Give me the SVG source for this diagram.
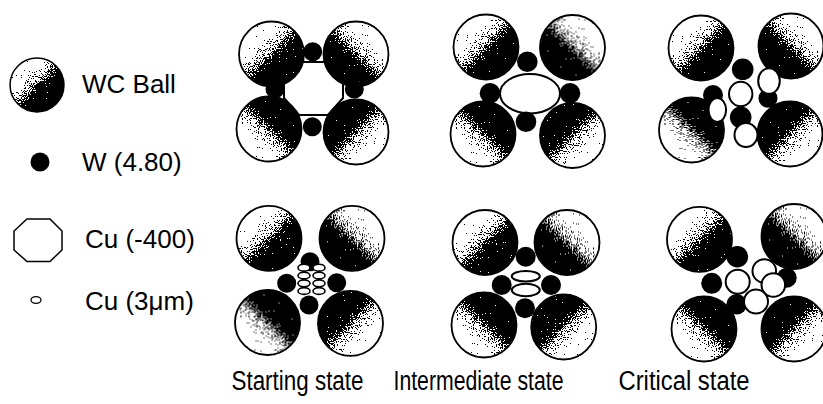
<svg xmlns="http://www.w3.org/2000/svg" width="823" height="404" viewBox="0 0 823 404">
  <style>
    .lbl { font-family: "Liberation Sans", Arial, sans-serif; font-size: 26px; fill: #000; }
    .cap { font-family: "Liberation Sans", Arial, sans-serif; font-size: 27px; fill: #000; }
    .w { fill: #000; }
    .cu { fill: #fff; stroke: #000; stroke-width: 2; }
    .cus { fill: #fff; stroke: #000; stroke-width: 1.6; }
  </style>
  <defs>
    <!-- shading: white on the far side, black toward the lower right -->
    <linearGradient id="shade" x1="0.08" y1="0.08" x2="0.92" y2="0.92">
      <stop offset="0" stop-color="#fff"/>
      <stop offset="0.26" stop-color="#fff"/>
      <stop offset="0.44" stop-color="#a0a0a0"/>
      <stop offset="0.56" stop-color="#303030"/>
      <stop offset="0.64" stop-color="#000"/>
      <stop offset="1" stop-color="#000"/>
    </linearGradient>
    <!-- stippled halftone look for the balls -->
    <filter id="grain" x="-5%" y="-5%" width="110%" height="110%" color-interpolation-filters="sRGB">
      <feTurbulence type="fractalNoise" baseFrequency="0.87" numOctaves="1" seed="7" result="noise"/>
      <feColorMatrix in="noise" type="matrix" values="1 0 0 0 0  1 0 0 0 0  1 0 0 0 0  0 0 0 0 1" result="gray"/>
      <feComposite in="SourceGraphic" in2="gray" operator="arithmetic" k1="0" k2="1" k3="2.2" k4="-1.1" result="mix"/>
      <feComponentTransfer in="mix" result="dots">
        <feFuncR type="discrete" tableValues="0 1"/>
        <feFuncG type="discrete" tableValues="0 1"/>
        <feFuncB type="discrete" tableValues="0 1"/>
      </feComponentTransfer>
      <feComposite in="dots" in2="SourceGraphic" operator="in"/>
    </filter>
    <g id="ball">
      <circle r="32.5" fill="url(#shade)" filter="url(#grain)"/>
      <circle r="32.5" fill="none" stroke="#000" stroke-width="1.8"/>
    </g>
  </defs>

  <rect width="823" height="404" fill="#fff"/>

  <!-- legend -->
  <g id="legend-wc">
    <use href="#ball" transform="translate(37 85) scale(0.83)"/>
    <text class="lbl" x="82" y="93">WC Ball</text>
  </g>
  <g id="legend-w">
    <circle class="w" cx="40" cy="162" r="9.5"/>
    <text class="lbl" x="82" y="171">W (4.80)</text>
  </g>
  <g id="legend-cu400">
    <polygon points="27,219 50,219 62,231 62,250 50,261.5 27,261.5 14,250 14,231" fill="#fff" stroke="#000" stroke-width="1.5"/>
    <text class="lbl" x="85" y="248">Cu (-400)</text>
  </g>
  <g id="legend-cu3">
    <ellipse cx="36" cy="300" rx="5" ry="3.3" fill="#fff" stroke="#000" stroke-width="1.3"/>
    <text class="lbl" x="85" y="310">Cu (3μm)</text>
  </g>

  <!-- coarse Cu powder: starting state -->
  <g id="coarse-start">
    <polygon points="299,62 328,62 343,79 343,98 328,115 299,115 284,98 284,79" fill="#fff" stroke="#000" stroke-width="2"/>
    <use href="#ball" transform="translate(271.5 54)"/>
    <use href="#ball" transform="translate(356 54) rotate(90)"/>
    <use href="#ball" transform="translate(269 129) rotate(-90)"/>
    <use href="#ball" transform="translate(356 132) rotate(180)"/>
    <circle class="w" cx="312.7" cy="51.7" r="9.5"/>
    <circle class="w" cx="275" cy="89" r="9.5"/>
    <circle class="w" cx="354.3" cy="89" r="9.5"/>
    <circle class="w" cx="312.3" cy="126.7" r="9.5"/>
  </g>

  <!-- coarse Cu powder: intermediate state -->
  <g id="coarse-intermediate">
    <ellipse class="cu" cx="530" cy="93.7" rx="30" ry="19.7"/>
    <use href="#ball" transform="translate(486 47)"/>
    <use href="#ball" transform="translate(572.5 47.5) rotate(90)"/>
    <use href="#ball" transform="translate(483 134) rotate(-90)"/>
    <use href="#ball" transform="translate(572.5 135.5) rotate(180)"/>
    <circle class="w" cx="527.3" cy="61.7" r="10.3"/>
    <circle class="w" cx="490" cy="93.3" r="10.3"/>
    <circle class="w" cx="570" cy="93.3" r="10.3"/>
    <circle class="w" cx="526" cy="121.7" r="10.3"/>
  </g>

  <!-- coarse Cu powder: critical state -->
  <g id="coarse-critical">
    <use href="#ball" transform="translate(701 48)"/>
    <use href="#ball" transform="translate(791 46) rotate(90)"/>
    <use href="#ball" transform="translate(691.5 130) rotate(-90)"/>
    <use href="#ball" transform="translate(790 134) rotate(180)"/>
    <circle class="w" cx="742.7" cy="69.3" r="10.8"/>
    <circle class="w" cx="713" cy="95" r="10"/>
    <circle class="w" cx="740.7" cy="117.3" r="10.8"/>
    <circle class="w" cx="768" cy="98.3" r="9.5"/>
    <ellipse class="cu" cx="740.7" cy="94" rx="11.7" ry="12.2"/>
    <ellipse class="cu" cx="717.3" cy="110" rx="8.8" ry="12"/>
    <ellipse class="cu" cx="746" cy="135" rx="11.5" ry="12"/>
    <ellipse class="cu" cx="769" cy="81" rx="10.8" ry="12.8"/>
  </g>

  <!-- fine Cu powder: starting state -->
  <g id="fine-start">
    <use href="#ball" transform="translate(269 238.3)"/>
    <use href="#ball" transform="translate(352 238.3) rotate(90)"/>
    <use href="#ball" transform="translate(267.5 322.5) rotate(-90)"/>
    <use href="#ball" transform="translate(350.5 323.3) rotate(180)"/>
    <circle class="w" cx="310" cy="261.7" r="9.5"/>
    <circle class="w" cx="286.7" cy="283.3" r="9.5"/>
    <circle class="w" cx="336.7" cy="282.7" r="9.5"/>
    <circle class="w" cx="309" cy="305" r="9.5"/>
    <ellipse class="cus" cx="304" cy="267.7" rx="6" ry="3.4"/>
    <ellipse class="cus" cx="319" cy="267.7" rx="6" ry="3.4"/>
    <ellipse class="cus" cx="304" cy="275.5" rx="6" ry="3.4"/>
    <ellipse class="cus" cx="319" cy="275.5" rx="6" ry="3.4"/>
    <ellipse class="cus" cx="304" cy="283.3" rx="6" ry="3.4"/>
    <ellipse class="cus" cx="319" cy="283.3" rx="6" ry="3.4"/>
    <ellipse class="cus" cx="304" cy="291" rx="6" ry="3.4"/>
    <ellipse class="cus" cx="319" cy="291" rx="6" ry="3.4"/>
  </g>

  <!-- fine Cu powder: intermediate state -->
  <g id="fine-intermediate">
    <use href="#ball" transform="translate(485 242.5)"/>
    <use href="#ball" transform="translate(567 242.5) rotate(90)"/>
    <use href="#ball" transform="translate(484 325) rotate(-90)"/>
    <use href="#ball" transform="translate(563.7 327) rotate(180)"/>
    <circle class="w" cx="525.7" cy="256.7" r="10"/>
    <circle class="w" cx="501.7" cy="285" r="10"/>
    <circle class="w" cx="551" cy="285" r="10"/>
    <circle class="w" cx="525" cy="308.3" r="10"/>
    <ellipse class="cu" cx="525.8" cy="276.3" rx="14" ry="5.3"/>
    <ellipse class="cu" cx="525.8" cy="290" rx="14" ry="6.3"/>
  </g>

  <!-- fine Cu powder: critical state -->
  <g id="fine-critical">
    <use href="#ball" transform="translate(699.5 239.3)"/>
    <use href="#ball" transform="translate(794 236.5) rotate(90)"/>
    <use href="#ball" transform="translate(704 329) rotate(-90)"/>
    <use href="#ball" transform="translate(794 329) rotate(180)"/>
    <circle class="w" cx="737.3" cy="256.7" r="10.8"/>
    <circle class="w" cx="711.7" cy="283.3" r="10.5"/>
    <circle class="w" cx="736.7" cy="304.3" r="10.3"/>
    <circle class="w" cx="786.7" cy="277.7" r="10"/>
    <circle class="cu" cx="737.7" cy="281.7" r="12"/>
    <circle class="cu" cx="764.3" cy="271" r="11.8"/>
    <circle class="cu" cx="773.3" cy="285" r="11.8"/>
    <circle class="cu" cx="756" cy="301.5" r="12"/>
  </g>

  <!-- state captions -->
  <g id="captions">
    <text class="cap" x="231.5" y="390" textLength="132" lengthAdjust="spacingAndGlyphs">Starting state</text>
    <text class="cap" x="393.5" y="390" textLength="170" lengthAdjust="spacingAndGlyphs">Intermediate state</text>
    <text class="cap" x="618.5" y="390" textLength="131" lengthAdjust="spacingAndGlyphs">Critical state</text>
  </g>
</svg>
